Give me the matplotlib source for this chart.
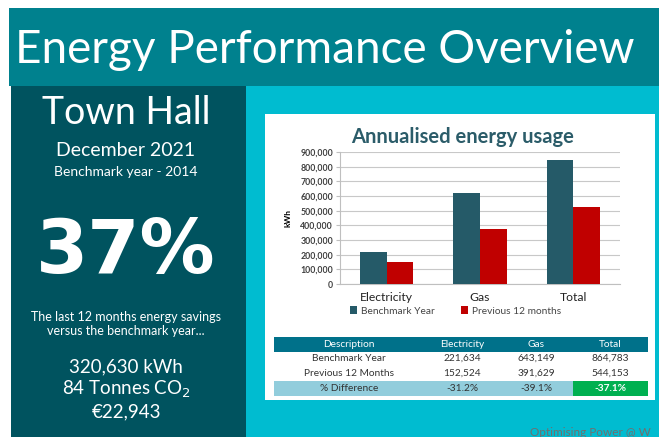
import numpy as np
import matplotlib
matplotlib.use('Agg')
import matplotlib.pyplot as plt
from matplotlib.patches import Rectangle

plt.rcParams['font.family'] = ['Lato', 'DejaVu Sans']

# chart data
categories = ['Electricity', 'Gas', 'Total']
benchmark = [220000, 622000, 845000]
previous = [150000, 377000, 527000]
series_names = ['Benchmark Year', 'Previous 12 months']

# table data
table_header = ['Description', 'Electricity', 'Gas', 'Total']
table_rows = [['Benchmark Year', '221,634', '643,149', '864,783'],
              ['Previous 12 Months', '152,524', '391,629', '544,153']]
diff_row = ['% Difference', '-31.2%', '-39.1%', '-37.1%']

# left panel
site = 'Town Hall'
period = 'December 2021'
bench_year = 'Benchmark year - 2014'
saving_pct = '37%'
saving_lines = ['320,630 kWh', '84 Tonnes CO$_2$', '\u20ac22,943']

W, H = 659, 437
c_head = '#00818e'
c_left = '#00535f'
c_cyan = '#00bcd0'
c_bench = '#255a68'
c_prev = '#c00000'

fig = plt.figure(figsize=(W / 100, H / 100), dpi=100)
fig.patch.set_facecolor('white')
bg = fig.add_axes([0, 0, 1, 1])
bg.set_xlim(0, W)
bg.set_ylim(H, 0)
bg.axis('off')

# panels
bg.add_patch(Rectangle((9, 8), W - 9, 78, color=c_head, lw=0))
bg.add_patch(Rectangle((11, 86), 235, H - 86, color=c_left, lw=0))
bg.add_patch(Rectangle((246, 86), W - 246, H - 86, color=c_cyan, lw=0))
bg.add_patch(Rectangle((265, 114), 390, 286, color='white', lw=0))

bg.text(15, 50, 'Energy Performance Overview', color='white', fontsize=33,
        va='center', ha='left')

cx = 126
bg.text(cx, 113, site, color='white', fontsize=27, ha='center', va='center')
bg.text(cx, 150, period, color='white', fontsize=14, ha='center', va='center')
bg.text(cx, 172, bench_year, color='white', fontsize=10, ha='center', va='center')
bg.text(cx, 253, saving_pct, color='white', fontsize=54, fontweight='bold',
        family='DejaVu Sans', ha='center', va='center')
bg.text(cx, 317, 'The last 12 months energy savings', color='white', fontsize=9,
        ha='center', va='center')
bg.text(cx, 331, 'versus the benchmark year...', color='white', fontsize=9,
        ha='center', va='center')
for i, s in enumerate(saving_lines):
    bg.text(cx, 367 + i * 22.5, s, color='white', fontsize=13.5, ha='center', va='center')

# chart
bg.text(463, 137, 'Annualised energy usage', color='#2b5c69', fontsize=14.5,
        fontweight='bold', ha='center', va='center')

ax = fig.add_axes([340 / W, 1 - 284 / H, 280 / W, 132 / H])
x = np.arange(len(categories))
bw = 0.285
ax.bar(x - bw / 2, benchmark, bw, color=c_bench, label=series_names[0], zorder=3)
ax.bar(x + bw / 2, previous, bw, color=c_prev, label=series_names[1], zorder=3)
ax.set_xlim(-0.5, 2.5)
ax.set_ylim(0, 900000)
ax.set_yticks(np.arange(0, 900001, 100000))
ax.set_yticklabels([f'{v:,}' for v in range(0, 900001, 100000)], fontsize=6.3,
                   fontweight='bold', color='#404040')
ax.set_xticks(x)
ax.set_xticklabels(categories, fontsize=8.7, color='#222222')
ax.tick_params(axis='x', length=0, pad=6)
ax.tick_params(axis='y', length=3, color='#bfbfbf', pad=2)
ax.grid(axis='y', color='#c8c8c8', lw=0.8, zorder=0)
for side in ['top', 'right']:
    ax.spines[side].set_visible(False)
for side in ['left', 'bottom']:
    ax.spines[side].set_color('#bfbfbf')
ax.set_ylabel('kWh', fontsize=6, fontweight='bold', labelpad=6)
ax.set_facecolor('white')
ax.legend(loc='upper left', bbox_to_anchor=(0.035, -0.17), ncol=2, frameon=False,
          fontsize=7.3, handlelength=0.7, handleheight=0.7, columnspacing=2.6,
          handletextpad=0.4, labelcolor='#444444', borderpad=0, borderaxespad=0)

# table
col_x = [349, 462, 536, 610]
tx0, tx1 = 274, 648
bg.add_patch(Rectangle((tx0, 337), tx1 - tx0, 15, color='#00718a', lw=0))
for cxx, h in zip(col_x, table_header):
    bg.text(cxx, 344.5, h, color='white', fontsize=7.3, ha='center', va='center')
for r, row in enumerate(table_rows):
    for cxx, v in zip(col_x, row):
        bg.text(cxx, 358.5 + r * 15, v, color='#333333', fontsize=7.3,
                ha='center', va='center')
bg.add_patch(Rectangle((tx0, 381), tx1 - tx0, 15, color='#92cddc', lw=0))
bg.add_patch(Rectangle((573, 381), tx1 - 573, 15, color='#00b050', lw=0))
for j, (cxx, v) in enumerate(zip(col_x, diff_row)):
    bg.text(cxx, 388.5, v, color='white' if j == 3 else '#333333', fontsize=7.3,
            ha='center', va='center', fontweight='bold' if j == 3 else 'normal')

bg.text(530, 433, 'Optimising Power @ W', color='#6f6f6f', fontsize=8.5,
        ha='left', va='center', clip_on=True)

fig.savefig('out.png', dpi=100)
